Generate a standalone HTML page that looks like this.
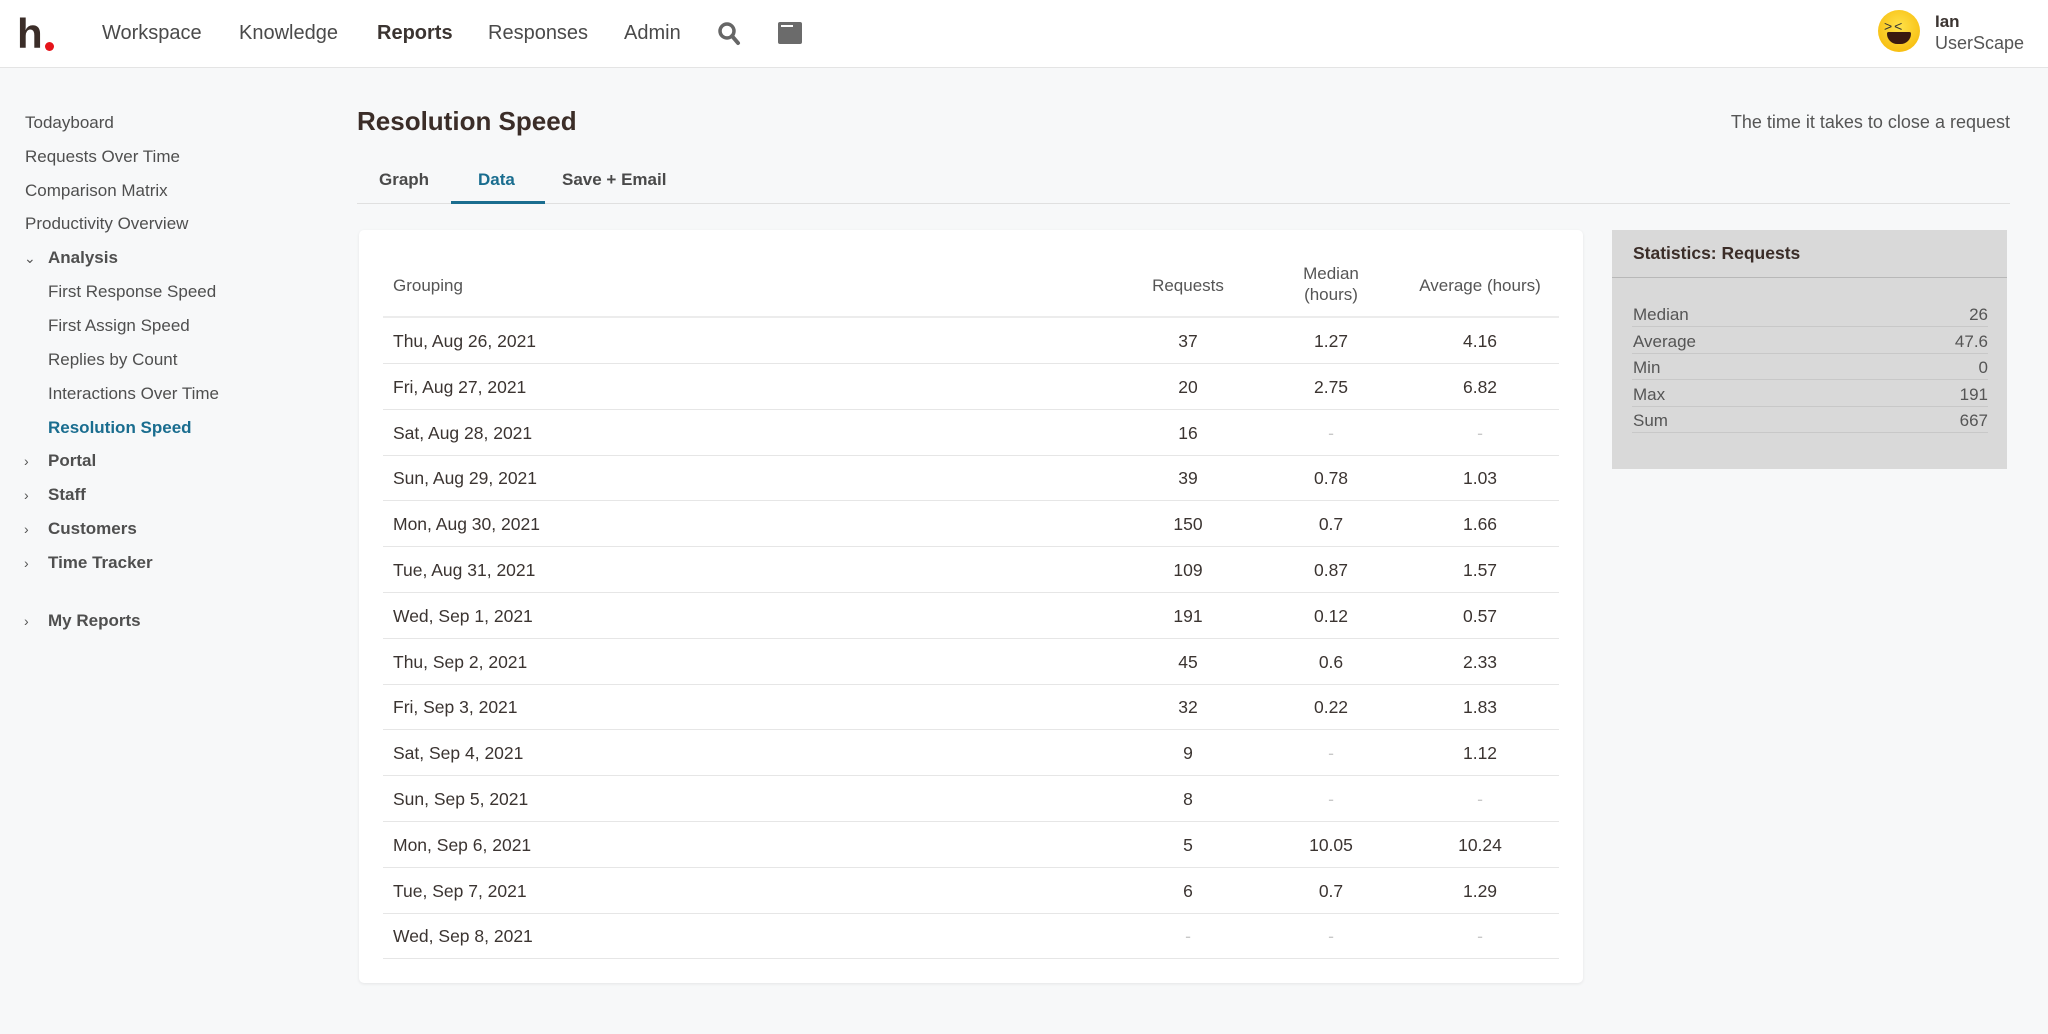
<!DOCTYPE html>
<html><head><meta charset="utf-8"><style>
*{margin:0;padding:0;box-sizing:border-box}
body{width:2048px;height:1034px;background:#f7f8f9;font-family:"Liberation Sans",sans-serif;color:#3b3431;position:relative;overflow:hidden}
.a{position:absolute;white-space:nowrap;line-height:24px}
.hdr{position:absolute;left:0;top:0;width:2048px;height:68px;background:#fff;border-bottom:1px solid #e4e4e4}
.nav{font-size:20px;color:#4a4a4a;top:21px}
.side{font-size:17px;color:#4f4f4f}
.b{font-weight:bold}
.chev{font-size:14px;color:#555;left:24px}
.cell{font-size:17.5px;color:#3b3431}
.c{width:160px;text-align:center}
.dash{color:#c8c8c8}
.line{position:absolute;height:1px;background:#e6e6e6}
</style></head><body>
<div class="hdr"></div>
<div class="a" style="left:17px;top:14px;font-size:42px;line-height:40px;font-weight:bold;color:#3b2d28">h</div>
<div style="position:absolute;left:45px;top:42px;width:9px;height:9px;border-radius:50%;background:#e5141a"></div>
<div class="a nav" style="left:102px">Workspace</div>
<div class="a nav" style="left:239px">Knowledge</div>
<div class="a nav b" style="left:377px;color:#3b3431">Reports</div>
<div class="a nav" style="left:488px">Responses</div>
<div class="a nav" style="left:624px">Admin</div>
<svg style="position:absolute;left:717px;top:21px" width="24" height="26" viewBox="0 0 24 26"><circle cx="10" cy="10" r="7" fill="none" stroke="#666" stroke-width="3.5"/><line x1="15" y1="15" x2="21" y2="22" stroke="#666" stroke-width="4" stroke-linecap="round"/></svg>
<div style="position:absolute;left:778px;top:22px;width:24px;height:22px;background:#6b6b6b;border-radius:2px"><div style="position:absolute;left:3px;top:3px;width:12px;height:2px;background:#fff"></div></div>
<div style="position:absolute;left:1878px;top:10px;width:42px;height:42px;border-radius:50%;background:radial-gradient(circle at 50% 40%,#ffe24a,#f5b400)"></div>
<div class="a" style="left:1884px;top:14px;font-size:14px;color:#333;letter-spacing:2px">&gt;&lt;</div>
<div style="position:absolute;left:1887px;top:32px;width:24px;height:12px;background:#3a1a10;border-radius:2px 2px 12px 12px"></div>
<div class="a b" style="left:1935px;top:10px;font-size:17px;color:#3b3431">Ian</div>
<div class="a" style="left:1935px;top:31px;font-size:18px;color:#555">UserScape</div>

<div class="a side" style="left:25px;top:111px">Todayboard</div>
<div class="a side" style="left:25px;top:145px">Requests Over Time</div>
<div class="a side" style="left:25px;top:179px">Comparison Matrix</div>
<div class="a side" style="left:25px;top:212px">Productivity Overview</div>
<div class="a chev" style="top:246px">⌄</div>
<div class="a side b" style="left:48px;top:246px">Analysis</div>
<div class="a side" style="left:48px;top:280px">First Response Speed</div>
<div class="a side" style="left:48px;top:314px">First Assign Speed</div>
<div class="a side" style="left:48px;top:348px">Replies by Count</div>
<div class="a side" style="left:48px;top:382px">Interactions Over Time</div>
<div class="a side b" style="left:48px;top:416px;color:#1a6d8f">Resolution Speed</div>
<div class="a chev" style="top:449px">›</div><div class="a side b" style="left:48px;top:449px">Portal</div>
<div class="a chev" style="top:483px">›</div><div class="a side b" style="left:48px;top:483px">Staff</div>
<div class="a chev" style="top:517px">›</div><div class="a side b" style="left:48px;top:517px">Customers</div>
<div class="a chev" style="top:551px">›</div><div class="a side b" style="left:48px;top:551px">Time Tracker</div>
<div class="a chev" style="top:609px">›</div><div class="a side b" style="left:48px;top:609px">My Reports</div>

<div class="a b" style="left:357px;top:106px;font-size:26px;line-height:30px;color:#3b2d28">Resolution Speed</div>
<div class="a" style="right:38px;top:110px;font-size:18px;color:#555">The time it takes to close a request</div>
<div class="a b" style="left:379px;top:168px;font-size:17px;color:#4a4a4a">Graph</div>
<div class="a b" style="left:478px;top:168px;font-size:17px;color:#1a6d8f">Data</div>
<div class="a b" style="left:562px;top:168px;font-size:17px;color:#4a4a4a">Save + Email</div>
<div class="line" style="left:357px;top:203px;width:1653px;background:#e0e0e0"></div>
<div style="position:absolute;left:451px;top:201px;width:94px;height:3px;background:#1a6d8f"></div>

<div style="position:absolute;left:359px;top:230px;width:1224px;height:753px;background:#fff;border-radius:5px;box-shadow:0 1px 3px rgba(0,0,0,.08)"></div>
<div class="a" style="left:393px;top:274px;font-size:17px;color:#555">Grouping</div>
<div class="a c" style="left:1108px;top:274px;font-size:17px;color:#555">Requests</div>
<div class="a c" style="left:1251px;top:263px;font-size:17px;color:#555;line-height:21px">Median<br>(hours)</div>
<div class="a c" style="left:1380px;top:274px;width:200px;font-size:17px;color:#555">Average (hours)</div>
<div class="line" style="left:383px;top:316px;width:1176px;height:2px;background:#ececec"></div>
<div id="rows"></div>
<script>
var d=[["Thu, Aug 26, 2021","37","1.27","4.16"],["Fri, Aug 27, 2021","20","2.75","6.82"],["Sat, Aug 28, 2021","16","-","-"],["Sun, Aug 29, 2021","39","0.78","1.03"],["Mon, Aug 30, 2021","150","0.7","1.66"],["Tue, Aug 31, 2021","109","0.87","1.57"],["Wed, Sep 1, 2021","191","0.12","0.57"],["Thu, Sep 2, 2021","45","0.6","2.33"],["Fri, Sep 3, 2021","32","0.22","1.83"],["Sat, Sep 4, 2021","9","-","1.12"],["Sun, Sep 5, 2021","8","-","-"],["Mon, Sep 6, 2021","5","10.05","10.24"],["Tue, Sep 7, 2021","6","0.7","1.29"],["Wed, Sep 8, 2021","-","-","-"]];
var h="";d.forEach(function(r,i){var cy=341+45.8*i,t=cy-12;
function v(x,s){return '<div class="a cell c'+(s=="-"?" dash":"")+'" style="left:'+x+'px;top:'+t+'px">'+s+'</div>'}
h+='<div class="a cell" style="left:393px;top:'+t+'px">'+r[0]+'</div>'+v(1108,r[1])+v(1251,r[2])+v(1400,r[3])+'<div class="line" style="left:383px;top:'+(cy+22)+'px;width:1176px"></div>'});
document.getElementById("rows").innerHTML=h;
</script>

<div style="position:absolute;left:1612px;top:230px;width:395px;height:239px;background:#d9d9d9"></div>
<div class="a b" style="left:1633px;top:241px;font-size:17.5px;color:#3b2d28">Statistics: Requests</div>
<div class="line" style="left:1612px;top:277px;width:395px;background:#b8b8b8"></div>
<div id="st"></div>
<script>
var s=[["Median","26"],["Average","47.6"],["Min","0"],["Max","191"],["Sum","667"]],g="";
s.forEach(function(r,i){var cy=315+26.5*i;g+='<div class="a" style="left:1633px;top:'+(cy-12)+'px;font-size:17px;color:#555">'+r[0]+'</div><div class="a" style="right:60px;top:'+(cy-12)+'px;font-size:17px;color:#555">'+r[1]+'</div><div class="line" style="left:1632px;top:'+(cy+11)+'px;width:356px;background:#c8c8c8"></div>'});
document.getElementById("st").innerHTML=g;
</script>
</body></html>
